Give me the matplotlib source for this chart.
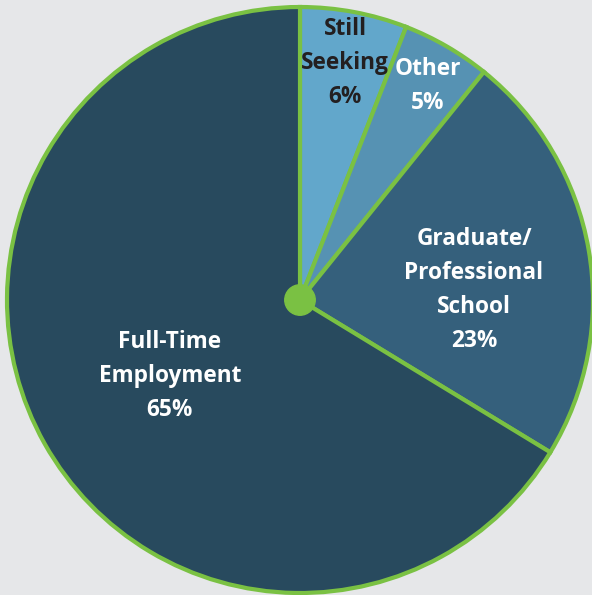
import matplotlib
matplotlib.use("Agg")
import matplotlib.pyplot as plt
from matplotlib.patches import Circle

labels = ["Still\nSeeking\n6%", "Other\n5%", "Graduate/\nProfessional\nSchool\n23%", "Full-Time\nEmployment\n65%"]
shares = [5.9, 4.9, 22.9, 66.3]
colors = ["#62a7cb", "#5692b3", "#35607c", "#284a5e"]
text_colors = ["#231f20", "white", "white", "white"]
# label anchor points, in units of the pie radius
label_x = [0.154, 0.437, 0.594, -0.444]
label_y = [0.809, 0.730, 0.034, -0.259]

BG = "#e6e7e9"
GREEN = "#7ac143"

fig = plt.figure(figsize=(5.92, 5.95), dpi=100)
fig.patch.set_facecolor(BG)
ax = fig.add_axes([0, 0, 1, 1])
ax.set_facecolor(BG)

wedges, _ = ax.pie(shares, colors=colors, startangle=90, counterclock=False,
                   wedgeprops=dict(edgecolor=GREEN, linewidth=3), radius=1.0)

for lab, tc, x, y in zip(labels, text_colors, label_x, label_y):
    ax.text(x, y, lab, ha="center", va="center", color=tc, fontsize=16.3,
            fontweight="bold", family="Open Sans", linespacing=1.55)

ax.add_patch(Circle((0, 0), 0.052, color=GREEN, zorder=5))

ax.set_xlim(-300 / 293, 292 / 293)
ax.set_ylim(-295 / 293, 300 / 293)
ax.set_aspect("equal")
ax.axis("off")

fig.savefig("out.png", dpi=100, facecolor=BG)
